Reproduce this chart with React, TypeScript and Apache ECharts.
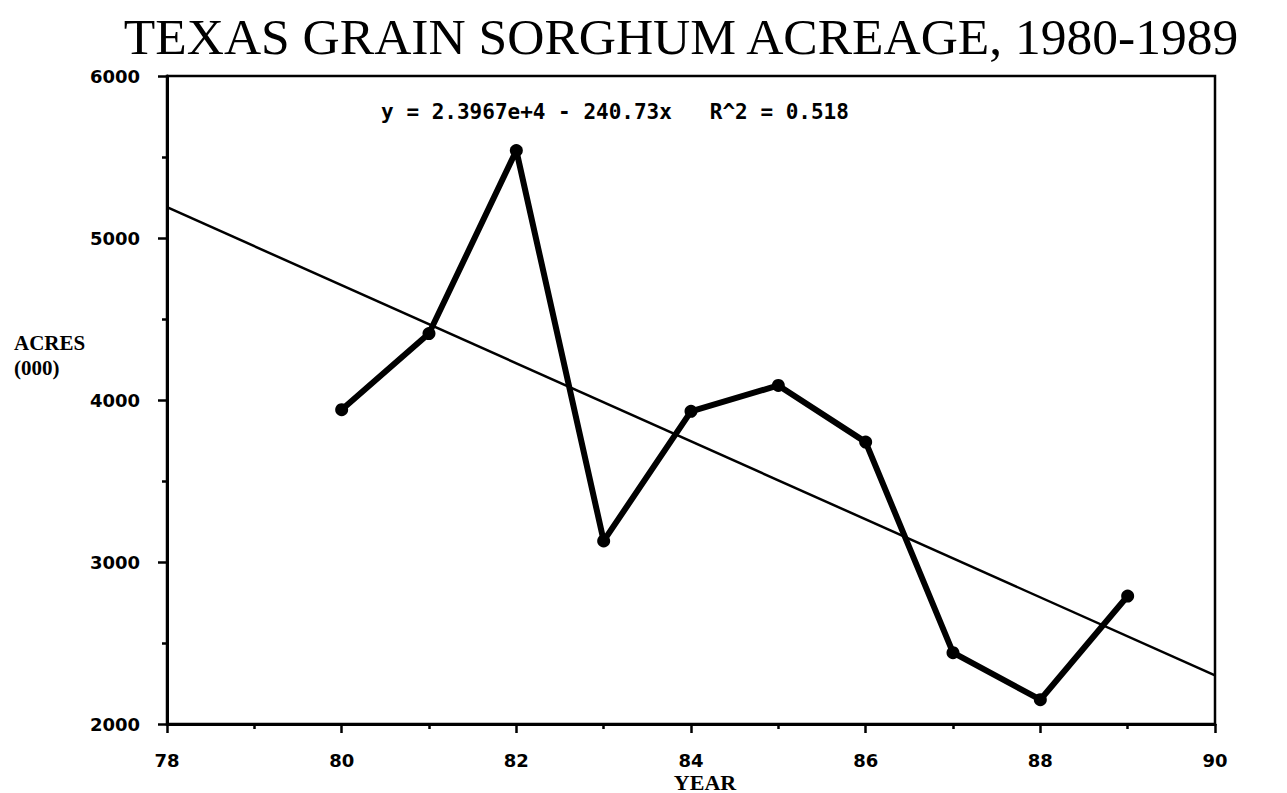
import React, { useEffect, useRef } from "react";
import * as echarts from "echarts";

const years = [80, 81, 82, 83, 84, 85, 86, 87, 88, 89];
const acres = [3940, 4410, 5540, 3130, 3930, 4090, 3740, 2440, 2150, 2790];
const trendYears = [78, 90];
const trendValues = [5190, 2300];
const titleText = "TEXAS GRAIN SORGHUM ACREAGE, 1980-1989";
const equationText = "y = 2.3967e+4 - 240.73x   R^2 = 0.518";
const yAxisTitle = ["ACRES", "(000)"];
const xAxisTitle = "YEAR";

export default function App() {
  const ref = useRef<HTMLDivElement>(null);
  useEffect(() => {
    if (!ref.current) return;
    const chart = echarts.init(ref.current, null, { renderer: "svg" });
    const labelFont = {
      color: "#000",
      fontFamily: "DejaVu Sans",
      fontWeight: "bold" as const,
      fontSize: 18,
    };
    chart.setOption({
      animation: false,
      backgroundColor: "#fff",
      grid: {
        left: 167,
        right: 72,
        top: 76,
        bottom: 69,
        show: true,
        borderColor: "#000",
        borderWidth: 2.5,
        backgroundColor: "transparent",
      },
      xAxis: {
        type: "value",
        min: 78,
        max: 90,
        interval: 2,
        axisLine: { show: true, lineStyle: { color: "#000", width: 3 } },
        axisTick: { show: true, inside: false, length: 9, lineStyle: { color: "#000", width: 2.5 } },
        minorTick: { show: true, splitNumber: 2, length: 5, lineStyle: { color: "#000", width: 2.5 } },
        splitLine: { show: false },
        axisLabel: { ...labelFont, margin: 27, formatter: (v: number) => String(v) },
      },
      yAxis: {
        type: "value",
        min: 2000,
        max: 6000,
        interval: 1000,
        axisLine: { show: true, lineStyle: { color: "#000", width: 3 } },
        axisTick: { show: true, inside: false, length: 9, lineStyle: { color: "#000", width: 2.5 } },
        minorTick: { show: true, splitNumber: 2, length: 5, lineStyle: { color: "#000", width: 2.5 } },
        splitLine: { show: false },
        axisLabel: { ...labelFont, margin: 27, formatter: (v: number) => String(v) },
      },
      series: [
        {
          type: "line",
          data: trendYears.map((x, i) => [x, trendValues[i]]),
          showSymbol: false,
          symbol: "none",
          lineStyle: { color: "#000", width: 2.5 },
          z: 2,
        },
        {
          type: "line",
          data: years.map((x, i) => [x, acres[i]]),
          symbol: "circle",
          symbolSize: 13,
          itemStyle: { color: "#000" },
          lineStyle: { color: "#000", width: 6 },
          z: 3,
        },
      ],
      graphic: [
        {
          type: "text",
          x: 681,
          y: 36,
          style: {
            text: titleText,
            fontFamily: "Liberation Serif",
            fontSize: 51.5,
            fill: "#000",
            textAlign: "center",
            textVerticalAlign: "middle",
          },
        },
        {
          type: "text",
          x: 615,
          y: 112,
          style: {
            text: equationText,
            fontFamily: "DejaVu Sans Mono",
            fontWeight: "bold",
            fontSize: 21,
            fill: "#000",
            textAlign: "center",
            textVerticalAlign: "middle",
          },
        },
        {
          type: "text",
          x: 14,
          y: 343,
          style: {
            text: yAxisTitle[0],
            fontFamily: "Liberation Serif",
            fontWeight: "bold",
            fontSize: 21,
            fill: "#000",
            textAlign: "left",
            textVerticalAlign: "middle",
          },
        },
        {
          type: "text",
          x: 14,
          y: 368,
          style: {
            text: yAxisTitle[1],
            fontFamily: "Liberation Serif",
            fontWeight: "bold",
            fontSize: 21,
            fill: "#000",
            textAlign: "left",
            textVerticalAlign: "middle",
          },
        },
        {
          type: "text",
          x: 705,
          y: 782,
          style: {
            text: xAxisTitle,
            fontFamily: "Liberation Serif",
            fontWeight: "bold",
            fontSize: 22,
            fill: "#000",
            textAlign: "center",
            textVerticalAlign: "middle",
          },
        },
      ],
    });
    return () => chart.dispose();
  }, []);
  return (
    <div
      ref={ref}
      style={{ position: "fixed", left: 0, top: 0, width: 1287, height: 793, background: "#fff" }}
    />
  );
}
